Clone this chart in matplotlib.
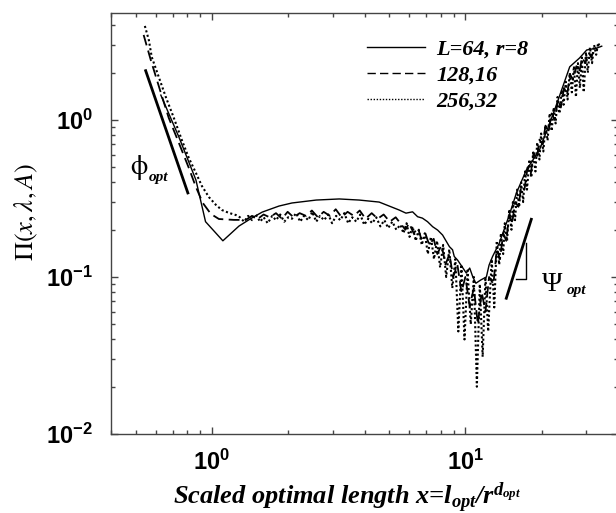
import numpy as np
import matplotlib
matplotlib.use('Agg')
import matplotlib.pyplot as plt
from matplotlib.lines import Line2D
from matplotlib.ticker import NullFormatter

plt.rcParams['mathtext.fontset'] = 'custom'
plt.rcParams['mathtext.it'] = 'Liberation Serif:bold:italic'
plt.rcParams['mathtext.rm'] = 'Liberation Serif:bold:italic'
plt.rcParams['mathtext.bf'] = 'Liberation Serif:bold:italic'

# L=64, r=8 (solid)
x64 = [0.629, 0.741, 0.865, 0.944, 1.105, 1.279, 1.44, 1.58, 1.84, 2.07, 2.58, 3.18, 3.81, 4.57, 5.48,
       5.83, 6.19, 6.48, 6.77, 7.09, 7.43, 7.77, 8.13, 8.65, 8.90, 9.04, 9.32, 9.61, 10.08, 10.4,
       10.7, 11.0, 11.5, 12.1, 12.4, 12.8, 13.6, 14.9, 15.9, 17.4, 19.6, 22.5, 25.8, 28.2, 30.1, 33.0, 34.5]
y64 = [1.44, 0.779, 0.415, 0.225, 0.170, 0.211, 0.238, 0.259, 0.283, 0.296, 0.309, 0.314, 0.309, 0.300, 0.267,
       0.255, 0.260, 0.242, 0.237, 0.225, 0.209, 0.199, 0.185, 0.156, 0.149, 0.135, 0.128, 0.119, 0.106, 0.114,
       0.100, 0.0912, 0.0957, 0.100, 0.119, 0.135, 0.164, 0.248, 0.343, 0.480, 0.644, 1.16, 2.18, 2.48, 2.79, 2.87, 2.95]

# 128,16 (dashed)
x128_left = [0.538, 0.574, 0.629, 0.676, 0.741, 0.811, 0.865, 0.921, 0.991, 1.066, 1.22, 1.36]
y128_left = [3.48, 2.41, 1.49, 1.03, 0.714, 0.495, 0.374, 0.296, 0.252, 0.234, 0.231, 0.231]
x128_mid = [1.44, 1.52, 1.60, 1.69, 1.79, 1.89, 1.99, 2.10, 2.22, 2.35, 2.48, 2.62, 2.76, 2.92, 3.08,
            3.25, 3.43, 3.63, 3.83, 4.04, 4.27, 4.51, 4.76, 5.03, 5.31, 5.60]
y128_mid = [0.245, 0.235, 0.25, 0.24, 0.255, 0.235, 0.26, 0.24, 0.255, 0.245, 0.265, 0.24, 0.26, 0.245, 0.27,
            0.24, 0.26, 0.245, 0.265, 0.235, 0.255, 0.235, 0.25, 0.225, 0.24, 0.215]
x128_dip = [5.8, 6.0, 6.25, 6.5, 6.7, 6.95, 7.2, 7.5, 7.75, 8.05, 8.35, 8.65, 8.95, 9.3, 9.65, 10.0,
            10.4, 10.8, 11.2, 11.6, 12.0, 12.4, 12.9]
y128_dip = [0.2, 0.22, 0.19, 0.205, 0.175, 0.19, 0.16, 0.175, 0.14, 0.16, 0.12, 0.14, 0.1, 0.12, 0.08, 0.1,
            0.065, 0.085, 0.05, 0.08, 0.06, 0.1, 0.09]
x128_rise = [13.3, 13.7, 14.1, 14.5, 14.9, 15.3, 15.7, 16.2, 16.6, 17.1, 17.6, 18.1, 18.6, 19.1, 19.6, 20.2,
             20.7, 21.3, 21.9, 22.5, 23.2, 23.8, 24.5, 25.2, 25.9, 26.6, 27.4, 28.1, 28.9, 29.7, 30.6, 31.4,
             32.3, 33.2]
y128_rise = [0.15, 0.13, 0.19, 0.17, 0.25, 0.22, 0.3, 0.28, 0.38, 0.36, 0.5, 0.45, 0.62, 0.56, 0.75, 0.7,
             0.92, 0.85, 1.1, 1.0, 1.35, 1.2, 1.6, 1.45, 1.95, 1.8, 2.2, 2.0, 2.5, 2.3, 2.7, 2.5, 2.9, 2.8]

# 256,32 (dotted)
x256_left = [0.544, 0.564, 0.579, 0.617, 0.658, 0.708, 0.761, 0.811, 0.865, 0.913, 0.973, 1.037, 1.095, 1.167, 1.244]
y256_left = [3.97, 3.23, 2.52, 1.88, 1.40, 1.03, 0.746, 0.573, 0.460, 0.380, 0.323, 0.288, 0.267, 0.256, 0.248]
x256_mid = [1.29, 1.34, 1.39, 1.44, 1.49, 1.55, 1.60, 1.66, 1.73, 1.79, 1.86, 1.93, 2.0, 2.07, 2.15,
            2.23, 2.31, 2.40, 2.49, 2.58, 2.67, 2.77, 2.88, 2.98, 3.09, 3.21, 3.33, 3.45, 3.58, 3.71,
            3.85, 3.99, 4.14, 4.29, 4.45, 4.62, 4.79, 4.96, 5.15, 5.34, 5.54]
y256_mid = [0.24, 0.225, 0.245, 0.23, 0.25, 0.225, 0.24, 0.22, 0.245, 0.23, 0.25, 0.225, 0.24, 0.235, 0.255,
            0.225, 0.245, 0.23, 0.26, 0.225, 0.245, 0.23, 0.25, 0.22, 0.245, 0.23, 0.255, 0.22, 0.24, 0.225,
            0.25, 0.215, 0.235, 0.22, 0.24, 0.21, 0.23, 0.205, 0.225, 0.2, 0.215]
x256_dip = [5.70, 5.86, 6.02, 6.19, 6.37, 6.55, 6.73, 6.92, 7.11, 7.31, 7.52, 7.73, 7.95, 8.17, 8.40, 8.64,
            8.88, 9.13, 9.38, 9.65, 9.92, 10.2, 10.5, 10.8, 11.1, 11.4, 11.7, 12.0, 12.3, 12.7, 13.0]
y256_dip = [0.19, 0.22, 0.18, 0.21, 0.17, 0.2, 0.16, 0.19, 0.14, 0.18, 0.13, 0.17, 0.115, 0.16, 0.10, 0.15,
            0.085, 0.13, 0.045, 0.12, 0.04, 0.11, 0.05, 0.10, 0.02, 0.09, 0.031, 0.10, 0.045, 0.13, 0.064]
x256_rise = [13.3, 13.6, 13.8, 14.1, 14.3, 14.6, 14.9, 15.2, 15.4, 15.7, 16.0, 16.3, 16.6, 16.9, 17.2, 17.5,
             17.9, 18.2, 18.5, 18.9, 19.2, 19.6, 19.9, 20.3, 20.7, 21.1, 21.5, 21.9, 22.3, 22.7, 23.1, 23.5,
             24.0, 24.4, 24.9, 25.3, 25.8, 26.3, 26.8, 27.3, 27.8, 28.3, 28.8, 29.3, 29.9, 30.4, 31.0, 31.6,
             32.2, 32.8, 33.4, 34.0]
y256_rise = [0.17, 0.12, 0.19, 0.14, 0.22, 0.17, 0.27, 0.2, 0.3, 0.23, 0.36, 0.28, 0.4, 0.3, 0.47, 0.36,
             0.56, 0.43, 0.62, 0.47, 0.72, 0.56, 0.82, 0.63, 0.92, 0.74, 1.1, 0.85, 1.2, 0.95, 1.4, 1.1,
             1.55, 1.25, 1.75, 1.35, 2.0, 1.5, 2.2, 1.4, 2.3, 1.6, 2.5, 1.5, 2.7, 2.0, 2.9, 2.3,
             3.0, 2.6, 3.1, 2.9]

# slope guides
phi_x = [0.548, 0.804]
phi_y = [2.06, 0.343]
psi_x = [14.5, 18.2]
psi_y = [0.0732, 0.233]
tri_x = [15.9, 17.4, 17.4]
tri_y = [0.0967, 0.0967, 0.164]

labels = ['L=64, r=8', '128,16', '256,32']

x128 = np.concatenate([x128_left, x128_mid, x128_dip, x128_rise])
y128 = np.concatenate([y128_left, y128_mid, y128_dip, y128_rise])
x256 = np.concatenate([x256_left, x256_mid, x256_dip, x256_rise])
y256 = np.concatenate([y256_left, y256_mid, y256_dip, y256_rise])

fig = plt.figure(figsize=(6.16, 5.13), dpi=100)
ax = fig.add_axes([111 / 616, 79 / 513, 507 / 616, 421 / 513])

dash = (0, (6, 3))
dot = (0, (1, 1.2))
ax.plot(x64, y64, color='black', lw=1.0, ls='-')
ax.plot(x128, y128, color='black', lw=1.3, ls=dash)
ax.plot(x256, y256, color='black', lw=1.5, ls=dot)

ax.plot(phi_x, phi_y, color='black', lw=2.0)
ax.plot(psi_x, psi_y, color='black', lw=2.0)
ax.plot(tri_x, tri_y, color='black', lw=1.0)

ax.set_xscale('log')
ax.set_yscale('log')
ax.set_xlim(0.4, 40)
ax.set_ylim(0.01, 4.8)
ax.xaxis.set_minor_formatter(NullFormatter())
ax.yaxis.set_minor_formatter(NullFormatter())

for s in ax.spines.values():
    s.set_color('#444444')
    s.set_linewidth(1.0)
ax.tick_params(which='both', direction='in', top=True, right=True, color='#444444', width=1.0)
ax.tick_params(which='major', length=5)
ax.tick_params(which='minor', length=3)
ax.tick_params(axis='x', which='major', pad=11)
ax.tick_params(axis='y', which='major', pad=13)
for t in ax.get_xticklabels() + ax.get_yticklabels():
    t.set_fontfamily('Liberation Sans')
    t.set_fontweight('bold')
    t.set_fontsize(17)

# legend
handles = [Line2D([], [], color='black', lw=1.0, ls='-'),
           Line2D([], [], color='black', lw=1.0, ls=dash),
           Line2D([], [], color='black', lw=1.0, ls=dot)]
ax.legend(handles, labels, loc='upper left', bbox_to_anchor=(356 / 616, 1 - 28 / 513),
          bbox_transform=fig.transFigure, frameon=False, borderpad=0, handlelength=2.6,
          handletextpad=0.5, labelspacing=0.25,
          prop={'family': 'Liberation Serif', 'weight': 'bold', 'style': 'italic', 'size': 16})

# slope labels
ax.text(0.519, 0.495, r'$\mathrm{\phi}$', math_fontfamily='stix', fontsize=20, ha='center', va='center')
ax.text(0.615, 0.43, 'opt', family='Liberation Serif', weight='bold', style='italic',
        fontsize=11, ha='center', va='center')
ax.text(22.0, 0.0902, 'Ψ', family='Liberation Serif', fontsize=20, ha='center', va='center')
ax.text(27.4, 0.0815, 'opt', family='Liberation Serif', weight='bold', style='italic',
        fontsize=11, ha='center', va='center')

fig.text(26 / 616, 1 - 212 / 513, r'$\Pi(x,\lambda,A)$', math_fontfamily='stix', fontsize=19,
         rotation=90, ha='center', va='center')
fig.text(347 / 616, 1 - 497 / 513, r'Scaled optimal length x=l$_{opt}$/r$^{d_{opt}}$',
         family='Liberation Serif', weight='bold', style='italic',
         fontsize=19, ha='center', va='center')

fig.savefig('out.png', dpi=100)
